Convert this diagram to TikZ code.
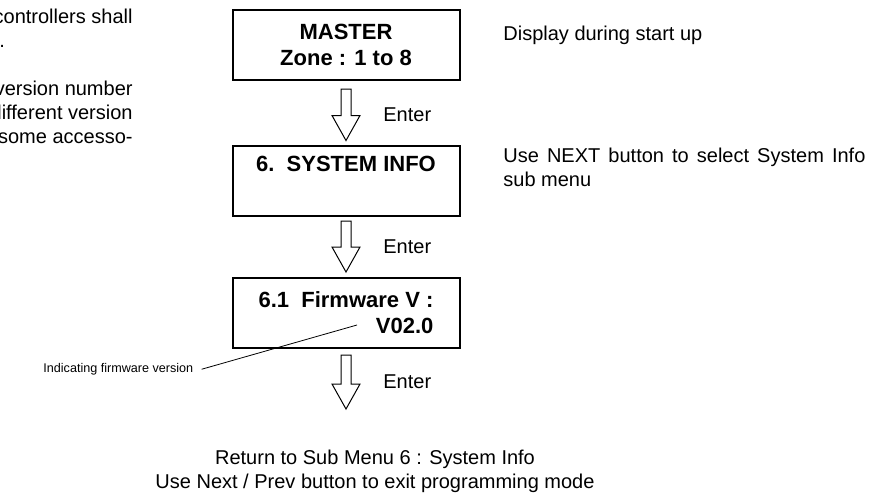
\documentclass[tikz,border=0pt]{standalone}
\usepackage{fontspec}
\setmainfont{Liberation Sans}
\usetikzlibrary{calc}

\tikzset{
  menubox/.style={draw, line width=1pt, minimum width=113.5pt, minimum height=35pt,
    inner sep=0pt, font=\fontsize{11}{13}\selectfont\bfseries},
  entertip/.style={draw, line width=0.5pt, line join=miter},
  note/.style={inner sep=0pt, font=\fontsize{10}{12}\selectfont},
  smallnote/.style={inner sep=4pt, font=\fontsize{6.3}{7.5}\selectfont},
}

% hollow "Enter" arrow, shaft top #1, tip #2
\newcommand{\enterarrow}[2]{%
  \draw[entertip] ($(#1)+(-5,0)$) -- ($(#1)+(5,0)$) -- ($(#2)+(5,-25)$)
    -- ($(#2)+(14,-25)$) -- (#2) -- ($(#2)+(-14,-25)$) -- ($(#2)+(-5,-25)$) -- cycle;
}

\begin{document}
\begin{tikzpicture}[x=0.5pt, y=-0.5pt]
  \useasboundingbox (0,0) rectangle (873,493);

  % text of the page, cut at the left
  \foreach \i/\y/\txt in {a/23/controllers shall, c/95/version number,
                          d/119/different version, e/143/some accesso-}
    \node[note, anchor=base east] (intro\i) at (133,\y) {\txt};
  \node[note, anchor=base west] (introb) at (-1,47) {.};

  % menu displays
  \node[menubox, align=center] (master) at (346,45) {MASTER\\Zone : 1 to 8};
  \node[menubox, align=center] (sysinfo) at (346,180.5) {6.\ \ SYSTEM INFO\\\strut};
  \node[menubox, align=right] (firmware) at (346,313) {6.1\ \ Firmware V :\\V02.0};

  % enter arrows
  \coordinate (top1) at ($(master.south)+(0,8)$);
  \coordinate (tip1) at ($(sysinfo.north)+(0,-4)$);
  \coordinate (top2) at ($(sysinfo.south)+(0,4.5)$);
  \coordinate (tip2) at ($(firmware.north)+(0,-5)$);
  \coordinate (top3) at ($(firmware.south)+(0,6)$);
  \coordinate (tip3) at ($(firmware.south)+(0,60)$);
  \foreach \n in {1,2,3} {
    \enterarrow{top\n}{tip\n}
    \node[note, anchor=west] (enter\n) at ($(top\n)!0.5!(tip\n)+(37,0)$) {Enter};
  }

  % remarks
  \node[note, anchor=base west] (startnote) at (503,40) {Display during start up};
  \node[note, anchor=north west, text width=181pt, align=justify] (nextnote) at (503,147.5)
    {Use NEXT button to select System Info sub menu};
  \node[smallnote, anchor=base west] (fwnote) at (35,372.5) {Indicating firmware version};
  \coordinate (fwpoint) at (357,325);
  \draw[line width=0.4pt] (fwnote.east) -- (fwpoint);

  \node[note, anchor=north, align=center] (returnnote) at (375,449.5)
    {Return to Sub Menu 6 : System Info\\Use Next / Prev button to exit programming mode};
\end{tikzpicture}
\end{document}
